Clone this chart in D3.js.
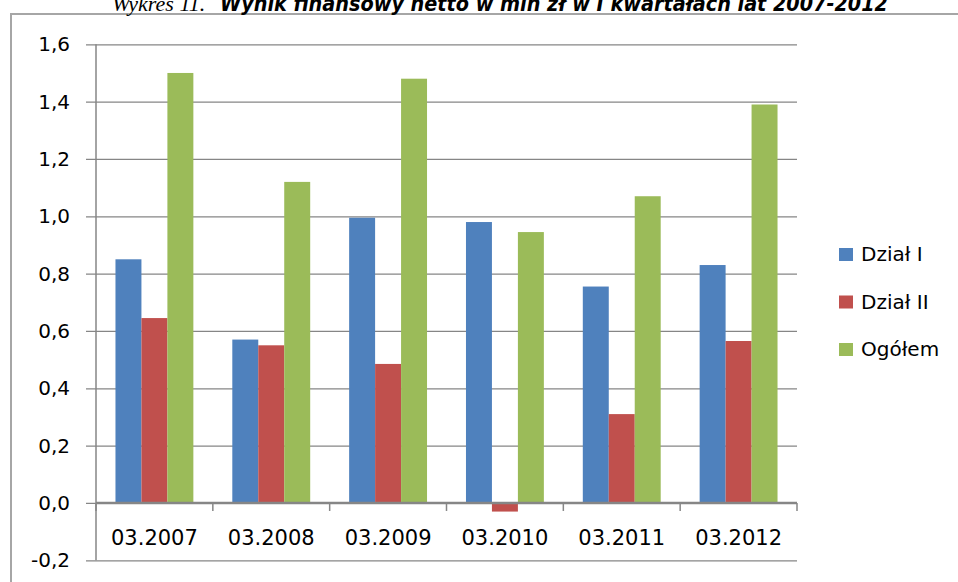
<!DOCTYPE html>
<html>
<head>
<meta charset="utf-8">
<script src="https://cdn.jsdelivr.net/npm/d3@7"></script>
<style>
  html, body { margin: 0; padding: 0; background: #fff; }
  svg { display: block; }
</style>
</head>
<body>
<svg id="chart" width="958" height="582"></svg>
<script>
// Wynik finansowy netto (mln zł), I kwartał 2007-2012
const categories = ["03.2007", "03.2008", "03.2009", "03.2010", "03.2011", "03.2012"];
const seriesNames = ["Dział I", "Dział II", "Ogółem"];
const dzialI  = [0.85, 0.57, 0.995, 0.98, 0.755, 0.83];
const dzialII = [0.645, 0.55, 0.485, -0.03, 0.31, 0.565];
const ogolem  = [1.50, 1.12, 1.48, 0.945, 1.07, 1.39];
const yTicks = [-0.2, 0, 0.2, 0.4, 0.6, 0.8, 1.0, 1.2, 1.4, 1.6];
const colors = ["#4F81BD", "#C0504D", "#9BBB59"];

const seriesValues = [dzialI, dzialII, ogolem];
const rows = categories.map((c, i) => ({
  cat: c,
  vals: seriesNames.map((s, j) => ({ series: s, idx: j, value: seriesValues[j][i] }))
}));

const svg = d3.select("#chart");
const plot = { left: 96, right: 797, top: 44.3, bottom: 560.3 };

// Outer frame (left and top edges)
svg.append("line").attr("x1", 11).attr("x2", 11).attr("y1", 14).attr("y2", 582)
  .attr("stroke", "#a6a6a6").attr("stroke-width", 2);
svg.append("line").attr("x1", 10).attr("x2", 958).attr("y1", 14).attr("y2", 14)
  .attr("stroke", "#a6a6a6").attr("stroke-width", 2);

// Title
const title = svg.append("text").attr("y", 11).attr("fill", "#000");
title.append("tspan").attr("x", 112)
  .attr("font-family", "Liberation Serif").attr("font-style", "italic")
  .attr("font-size", 22)
  .text("Wykres 11.");
title.append("tspan").attr("x", 220)
  .attr("font-family", "DejaVu Sans Condensed, DejaVu Sans").attr("font-weight", "bold")
  .attr("font-style", "italic").attr("font-size", 22)
  .attr("textLength", 668).attr("lengthAdjust", "spacingAndGlyphs")
  .text("Wynik finansowy netto w mln zł w I kwartałach lat 2007-2012");

const x = d3.scaleBand().domain(categories).range([plot.left, plot.right]).padding(0);
const xs = d3.scaleBand().domain(seriesNames).range([0, x.bandwidth()])
  .paddingInner(0).paddingOuter(0.75);
const y = d3.scaleLinear().domain([-0.2, 1.6]).range([plot.bottom, plot.top]);

const fmt = v => d3.format(".1f")(v).replace(".", ",").replace("−", "-");

// Gridlines with outward ticks, value axis
const yAxis = d3.axisLeft(y).tickValues(yTicks)
  .tickSize(-(plot.right - plot.left)).tickSizeOuter(0).tickFormat(fmt).tickPadding(16);
const gy = svg.append("g").attr("transform", `translate(${plot.left},0)`).call(yAxis);
gy.select(".domain").remove();
gy.selectAll(".tick line").attr("stroke", "#868686").attr("stroke-width", 1.2)
  .attr("x1", -10).attr("x2", plot.right - plot.left);
gy.selectAll(".tick text").attr("font-family", "DejaVu Sans").attr("font-size", 20)
  .attr("fill", "#000").attr("x", -26);

// Vertical value axis line
svg.append("line").attr("x1", plot.left).attr("x2", plot.left)
  .attr("y1", plot.top).attr("y2", plot.bottom)
  .attr("stroke", "#868686").attr("stroke-width", 1.5);

// Bars
const groups = svg.append("g").selectAll("g").data(rows).join("g")
  .attr("transform", d => `translate(${x(d.cat)},0)`);
groups.selectAll("rect").data(d => d.vals).join("rect")
  .attr("x", d => xs(d.series))
  .attr("width", xs.bandwidth())
  .attr("y", d => Math.min(y(d.value), y(0)))
  .attr("height", d => Math.abs(y(d.value) - y(0)))
  .attr("fill", d => colors[d.idx]);

// Category axis along zero
const gx = svg.append("g").attr("transform", `translate(0,${y(0)})`);
const boundaries = categories.map(c => x(c)).concat([plot.right]);
gx.selectAll("line.cb").data(boundaries).join("line").attr("class", "cb")
  .attr("x1", d => d).attr("x2", d => d).attr("y1", 0).attr("y2", 8)
  .attr("stroke", "#868686").attr("stroke-width", 1.5);
gx.append("line").attr("x1", plot.left).attr("x2", plot.right).attr("y1", 0).attr("y2", 0)
  .attr("stroke", "#868686").attr("stroke-width", 2.5);
gx.selectAll("text.cat").data(categories).join("text").attr("class", "cat")
  .attr("x", d => x(d) + x.bandwidth() / 2)
  .attr("y", 42)
  .attr("text-anchor", "middle")
  .attr("font-family", "DejaVu Sans").attr("font-size", 21).attr("fill", "#000")
  .text(d => d);

// Legend
const legend = svg.append("g").attr("transform", "translate(839,248)");
const li = legend.selectAll("g").data(seriesNames).join("g")
  .attr("transform", (d, i) => `translate(0,${i * 47.5})`);
li.append("rect").attr("width", 14).attr("height", 13).attr("fill", (d, i) => colors[i]);
li.append("text").attr("x", 22).attr("y", 13)
  .attr("font-family", "DejaVu Sans").attr("font-size", 20).attr("fill", "#000")
  .text(d => d);
</script>
</body>
</html>
